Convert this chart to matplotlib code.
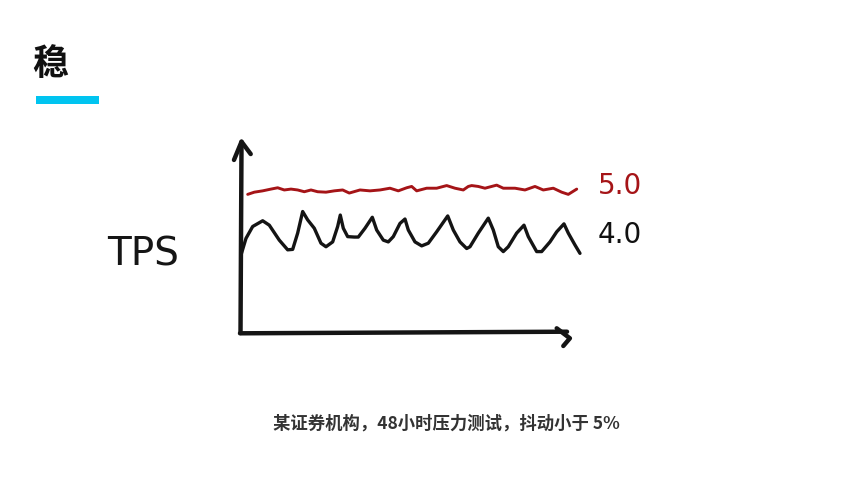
import matplotlib
matplotlib.use("Agg")
import matplotlib.pyplot as plt
from matplotlib.patches import Rectangle

plt.rcParams['font.family'] = ['Noto Sans CJK SC', 'DejaVu Sans']

# ---- data (hours, TPS in 10k) ----
black_hours = [0.14, 0.85, 1.80, 3.22, 4.16, 5.58, 6.77, 7.48, 8.19, 8.90, 9.61, 10.55,
               11.50, 12.21, 13.16, 13.87, 14.24, 14.67, 15.29, 16.23, 16.80, 17.75,
               18.79, 19.41, 20.35, 21.06, 21.77, 22.72, 23.43, 23.90, 24.85, 25.80,
               26.74, 27.93, 29.50, 30.29, 31.24, 32.19, 32.66, 33.84, 35.26, 35.97,
               36.68, 37.39, 38.10, 39.29, 40.33, 40.94, 42.13, 42.84, 44.02, 44.98,
               46.01, 46.62, 47.57, 48.28]
black_tps = [3.52, 3.90, 4.17, 4.30, 4.20, 3.86, 3.64, 3.65, 4.02, 4.51, 4.32, 4.13,
             3.79, 3.71, 3.82, 4.17, 4.43, 4.13, 3.94, 3.93, 3.93, 4.13,
             4.38, 4.09, 3.86, 3.82, 3.94, 4.24, 4.34, 4.09, 3.82, 3.73,
             3.79, 4.05, 4.41, 4.09, 3.82, 3.67, 3.71, 4.02, 4.36, 4.09,
             3.71, 3.60, 3.71, 4.02, 4.20, 3.94, 3.60, 3.60, 3.82, 4.05,
             4.23, 4.02, 3.75, 3.56]

red_hours = [1.09, 2.03, 3.22, 4.40, 5.35, 6.29, 7.24, 8.19, 9.13, 10.08, 11.03, 12.21,
             13.39, 14.58, 15.52, 17.04, 18.46, 19.88, 21.30, 22.48, 23.67, 24.38,
             25.09, 26.51, 27.93, 29.35, 30.53, 31.71, 32.42, 32.90, 33.84, 34.79,
             36.45, 37.39, 39.05, 40.47, 41.89, 43.07, 44.49, 45.68, 46.62, 47.82]
red_tps = [4.90, 4.95, 4.98, 5.02, 5.05, 5.00, 5.02, 5.00, 4.96, 5.00, 4.96, 4.95,
           4.98, 5.00, 4.93, 5.00, 4.98, 5.00, 5.04, 4.98, 5.05, 5.08,
           4.98, 5.04, 5.04, 5.10, 5.04, 5.00, 5.08, 5.10, 5.08, 5.04,
           5.11, 5.04, 5.04, 5.00, 5.08, 5.00, 5.04, 4.95, 4.90, 5.02]

level_labels = ["5.0", "4.0"]
level_values = [5.09, 3.98]
level_colors = ["#a51417", "#111111"]

title = "稳"
y_label = "TPS"
caption = "某证券机构，48小时压力测试，抖动小于 5%"

# ---- figure ----
W, H = 866, 479
fig = plt.figure(figsize=(W / 100, H / 100), dpi=100)
fig.patch.set_facecolor("white")

ax = fig.add_axes([240 / W, 1 - 333 / H, 338 / W, 191 / H])
ax.set_xlim(0, 48)
ax.set_ylim(1.75, 6.09)
ax.axis("off")

red = "#a51417"
ax.plot(black_hours, black_tps, color="#141414", lw=2.4,
        solid_joinstyle="round", solid_capstyle="round", clip_on=False)
ax.plot(red_hours, red_tps, color=red, lw=2.1,
        solid_joinstyle="round", solid_capstyle="round", clip_on=False)

# hand-drawn axes with arrows
axkw = dict(color="#151515", lw=3.2, solid_capstyle="round", solid_joinstyle="round",
            transform=ax.transAxes, clip_on=False)
ax.plot([0.0015, 0.0045], [0.0, 1.0016], **axkw)
ax.plot([-0.0178, 0.0045, 0.0317], [0.906, 1.0016, 0.937], **axkw)
ax.plot([0.0, 0.9675], [-0.0016, 0.0068], **axkw)
ax.plot([0.937, 0.976, 0.9565], [0.0246, -0.0277, -0.068], **axkw)

for lab, val, col in zip(level_labels, level_values, level_colors):
    ax.text(50.8, val, lab, color=col, fontsize=20, ha="left", va="center",
            family="DejaVu Sans", clip_on=False)

fig.text(107 / W, 1 - 255 / H, y_label, fontsize=28, color="#151515",
         ha="left", va="center", family="DejaVu Sans")

fig.text(32 / W, 1 - 65 / H, title, fontsize=26, fontweight="bold",
         color="#111111", ha="left", va="center")
fig.patches.append(Rectangle((36 / W, 1 - 104 / H), 63 / W, 8 / H,
                             transform=fig.transFigure, color="#00c4f0", lw=0))

fig.text(446 / W, 1 - 424 / H, caption, fontsize=12.5, fontweight="bold",
         color="#333333", ha="center", va="center")

fig.savefig("out.png", dpi=100, facecolor="white")
